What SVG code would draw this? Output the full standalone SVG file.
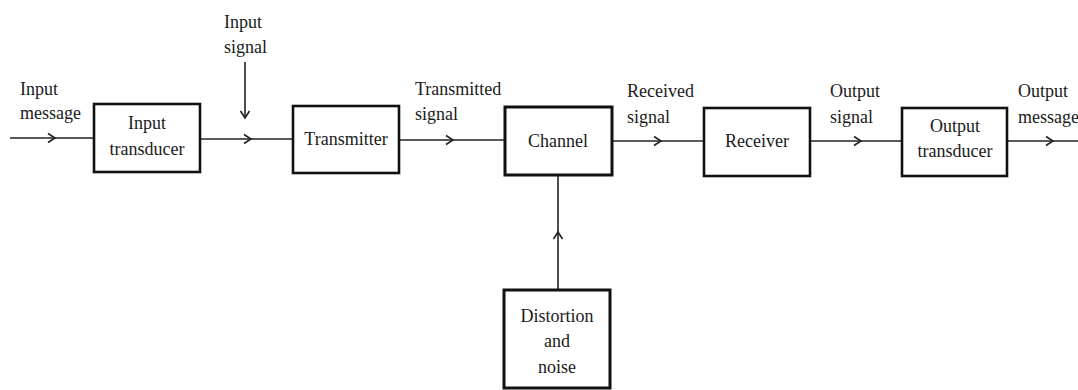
<svg xmlns="http://www.w3.org/2000/svg" width="1078" height="390" viewBox="0 0 1078 390">
<style>
.box{fill:#fff;stroke:#111;stroke-width:2.6}
.ln{fill:none;stroke:#222;stroke-width:1.6;marker-mid:url(#chev)}
.ln2{fill:none;stroke:#222;stroke-width:1.6}
text{font-family:"Liberation Serif","Times New Roman",serif;font-size:18px;fill:#1a1a1a}
.c{text-anchor:middle}
</style>
<defs>
<marker id="chev" viewBox="-8 -6 10 12" markerWidth="10" markerHeight="12" refX="0" refY="0" orient="auto" markerUnits="userSpaceOnUse">
<path d="M-7,-4.5 L0,0 L-7,4.5" fill="none" stroke="#222" stroke-width="1.6"/>
</marker>
<marker id="chevEnd" viewBox="-8 -6 10 12" markerWidth="10" markerHeight="12" refX="0" refY="0" orient="auto" markerUnits="userSpaceOnUse">
<path d="M-7,-4.5 L0,0 L-7,4.5" fill="none" stroke="#222" stroke-width="1.6"/>
</marker>
</defs>
<g id="connectors">
<path class="ln" d="M10,138 L55,138 L94,138"/>
<path class="ln" d="M200,139 L251,139 L293,139"/>
<path class="ln2" d="M245,62 L245,118" marker-end="url(#chevEnd)"/>
<path class="ln" d="M399,140 L453,140 L505,140"/>
<path class="ln" d="M612,141 L661,141 L704,141"/>
<path class="ln" d="M810,141 L861,141 L902,141"/>
<path class="ln" d="M1007,141 L1053,141 L1078,141"/>
<path class="ln" d="M558,290 L558,232 L558,175"/>
</g>
<g id="labels">
<text x="20" y="95">Input</text>
<text x="20" y="119">message</text>
<text x="224" y="28">Input</text>
<text x="224" y="53">signal</text>
<text x="415" y="95">Transmitted</text>
<text x="415" y="120">signal</text>
<text x="627" y="97">Received</text>
<text x="627" y="123">signal</text>
<text x="830" y="97">Output</text>
<text x="830" y="123">signal</text>
<text x="1018" y="97">Output</text>
<text x="1018" y="123">message</text>
</g>
<g id="input-transducer">
<rect class="box" x="94" y="104" width="106" height="68"/>
<text class="c" x="147" y="129">Input</text>
<text class="c" x="147" y="155">transducer</text>
</g>
<g id="transmitter">
<rect class="box" x="293" y="106" width="106" height="67"/>
<text class="c" x="346" y="145">Transmitter</text>
</g>
<g id="channel">
<rect class="box" x="505" y="107" width="107" height="68" style="stroke-width:3"/>
<text class="c" x="558" y="147">Channel</text>
</g>
<g id="receiver">
<rect class="box" x="704" y="108" width="106" height="68"/>
<text class="c" x="757" y="147">Receiver</text>
</g>
<g id="output-transducer">
<rect class="box" x="902" y="108" width="105" height="68"/>
<text class="c" x="955" y="132">Output</text>
<text class="c" x="955" y="157">transducer</text>
</g>
<g id="distortion">
<rect class="box" x="504" y="290" width="106" height="98" style="stroke-width:3"/>
<text class="c" x="557" y="322">Distortion</text>
<text class="c" x="557" y="347">and</text>
<text class="c" x="557" y="373">noise</text>
</g>
</svg>
